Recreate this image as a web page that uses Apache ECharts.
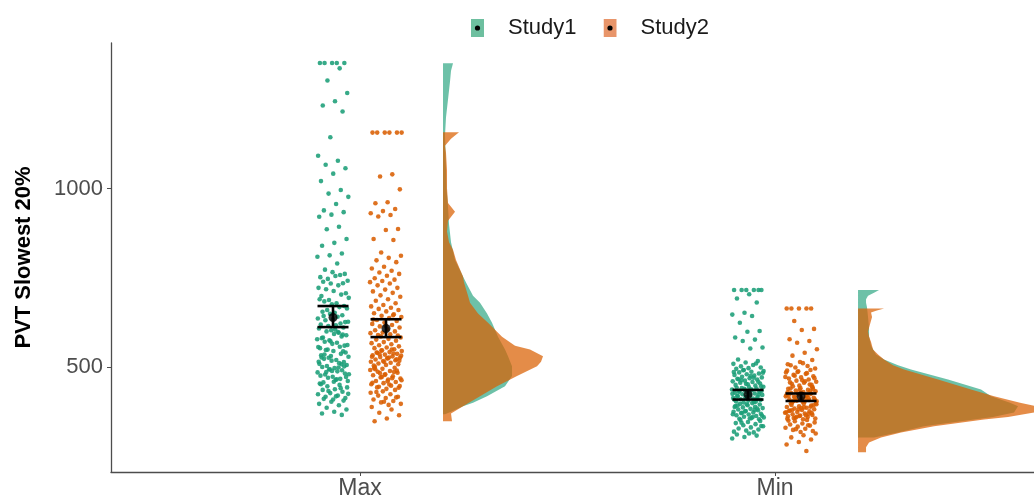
<!DOCTYPE html>
<html>
<head>
<meta charset="utf-8">
<script src="https://cdn.jsdelivr.net/npm/echarts@6/dist/echarts.min.js"></script>
<style>
  html, body { margin: 0; padding: 0; background: #fff; }
  #main { width: 1034px; height: 500px; }
</style>
</head>
<body>
<div id="main"></div>
<script>
var categories = ['Max', 'Min'];
var studies = ['Study1', 'Study2'];

var maxStudy1 = [1352,1352,1352,1352,1352,1337,1303,1268,1245,1233,1216,1144,1092,1078,1067,1057,1042,1021,996,986,977,957,939,934,927,921,893,886,859,848,840,818,813,809,790,
  773,761,766,752,758,747,742,755,739,735,734,722,729,718,707,713,699,703,688,694,679,684,671,676,690,
  668,660,664,652,655,645,649,636,641,631,626,634,619,622,615,627,617,643,
  611,603,608,596,600,589,593,581,586,575,578,568,571,560,565,553,557,549,562,605,583,591,572,556,598,
  548,541,545,533,537,526,529,520,523,514,518,509,511,503,506,497,500,491,494,485,488,479,482,473,476,467,470,461,464,457,
  544,531,515,499,486,472,459,527,508,493,480,466,535,502,489,
  454,450,446,443,438,436,431,427,424,420,417,413,409,452,441,433,425,418,411,406,
  403,397,393,386,381,375,370,366];

var maxStudy2 = [1157,1157,1157,1157,1157,1157,1040,1034,998,962,959,943,937,931,926,922,887,884,859,856,821,812,806,799,794,
  781,776,770,765,761,756,749,745,741,738,734,729,722,717,712,708,701,697,690,686,679,674,670,666,663,
  660,656,651,648,644,640,637,632,629,625,621,618,614,611,606,603,600,597,595,592,590,588,616,633,645,
  586,583,579,577,574,570,567,564,561,558,555,553,550,547,545,542,540,537,535,533,530,528,526,524,521,519,517,515,512,510,
  508,506,504,538,546,532,527,541,522,514,529,549,536,518,525,
  501,498,495,492,489,487,484,480,477,474,471,468,465,461,458,455,452,448,445,442,439,497,486,472,463,451,443,490,478,456,469,483,447,460,494,
  436,432,428,424,420,417,413,409,405,401,397,394,430,415,403,
  388,381,372,365,356,348];

var minStudy1 = [716,716,716,716,716,716,704,692,681,652,647,643,624,601,599,583,577,573,555,552,
  521,517,513,509,506,502,499,497,495,510,
  492,489,487,485,482,480,478,476,473,471,469,467,465,462,460,458,456,454,452,450,448,491,484,475,466,459,453,486,470,463,
  446,444,442,440,439,437,435,433,431,429,428,426,424,422,421,419,417,415,413,412,410,408,406,404,403,401,445,438,430,423,416,409,402,441,434,427,418,411,436,425,
  399,397,395,393,391,389,387,385,383,381,379,377,375,373,371,369,367,365,363,361,359,357,355,354,396,388,380,372,364,356,392,384,376,368,360,
  352,349,346,343,340,337,334,331,328,325,322,319,317,344,335,
  314,311,308,304,300];

var minStudy2 = [664,664,664,664,664,629,607,604,578,573,568,550,540,532,
  520,514,508,503,499,496,511,505,
  492,488,485,481,478,474,471,468,465,462,459,456,453,450,448,490,483,476,469,463,457,451,486,472,460,
  446,443,441,439,436,434,432,430,427,425,423,421,419,417,414,412,410,408,406,404,402,401,444,437,429,422,415,409,403,440,433,426,418,411,405,438,428,420,413,407,
  399,397,394,392,390,388,386,384,382,380,378,376,374,372,370,368,366,364,362,360,358,356,354,398,389,381,373,365,357,393,385,377,369,361,396,387,379,371,363,355,
  352,348,345,342,339,336,333,330,327,324,321,318,350,337,326,
  314,309,303,297,290,283,265];

// mean and interval per category (Max, Min)
var study1Mean = [639, 423];
var study1Low = [612, 409];
var study1High = [671, 436];
var study2Mean = [608, 419];
var study2Low = [584, 405];
var study2High = [634, 426];

// density profiles: [value, density]
var densMaxStudy1 = [[1351,0.10],[1330,0.08],[1300,0.07],[1250,0.05],[1200,0.03],[1150,0.02],[1100,0.025],[1050,0.03],[1000,0.035],[950,0.05],[900,0.06],[850,0.08],[800,0.12],[754,0.20],[737,0.23],[700,0.30],[680,0.37],[650,0.44],[624,0.49],[585,0.55],[549,0.62],[530,0.65],[502,0.69],[475,0.69],[446,0.62],[418,0.44],[400,0.30],[390,0.20],[375,0.08],[368,0.02]];
var densMaxStudy2 = [[1158,0.16],[1140,0.08],[1120,0.02],[1100,0.03],[1050,0.04],[1000,0.04],[960,0.05],[935,0.12],[910,0.05],[880,0.04],[850,0.06],[829,0.10],[800,0.13],[754,0.20],[737,0.21],[700,0.25],[680,0.27],[650,0.35],[624,0.45],[585,0.59],[560,0.72],[549,0.87],[530,1.00],[515,0.98],[502,0.94],[475,0.74],[446,0.54],[418,0.37],[390,0.20],[370,0.08],[348,0.09]];
var densMinStudy1 = [[716,0.21],[708,0.16],[700,0.10],[690,0.08],[680,0.08],[667,0.09],[640,0.10],[610,0.11],[586,0.11],[560,0.13],[535,0.18],[521,0.26],[505,0.40],[493,0.53],[465,0.90],[437,1.23],[418,1.33],[400,1.52],[390,1.60],[373,1.56],[360,1.35],[353,1.16],[334,0.66],[317,0.40],[303,0.16]];
var densMinStudy2 = [[664,0.26],[658,0.18],[653,0.13],[640,0.14],[620,0.12],[600,0.10],[586,0.11],[570,0.13],[549,0.15],[535,0.20],[521,0.26],[505,0.35],[493,0.46],[465,0.80],[437,1.13],[418,1.36],[400,1.62],[390,1.78],[382,1.85],[373,1.76],[360,1.50],[353,1.26],[334,0.76],[317,0.43],[303,0.23],[289,0.11],[275,0.08],[261,0.08]];

var yTicks = [500, 1000];

var pointColors = ['#1b9e77', '#d95f02'];
var fillColors = ['rgba(27,158,119,0.64)', 'rgba(217,95,2,0.72)'];
var font = 'Liberation Sans, Arial, sans-serif';

var pxPerUnit = 415;
var studyOffset = [-27 / pxPerUnit, 26 / pxPerUnit];
var jitterHalf = 16 / pxPerUnit;
var densityOffset = 83 / pxPerUnit;
var densityScale = 100 / pxPerUnit;
var capHalf = 15.5 / pxPerUnit;

function jitterPoints(values, catIndex, studyIndex) {
  var cx = catIndex + 1 + studyOffset[studyIndex];
  return values.map(function (v, i) {
    var f = ((i + 1) * 0.6180339887 + studyIndex * 0.37 + catIndex * 0.21) % 1;
    return [cx + (f - 0.5) * 2 * jitterHalf, v];
  });
}

function densitySeries(name, profile, catIndex, studyIndex) {
  var base = catIndex + 1 + densityOffset;
  return {
    type: 'custom',
    name: name,
    silent: true,
    z: 1 + studyIndex,
    data: [[base, profile[0][0]]],
    renderItem: function (params, api) {
      var pts = [api.coord([base, profile[0][0]])];
      profile.forEach(function (p) {
        pts.push(api.coord([base + p[1] * densityScale, p[0]]));
      });
      pts.push(api.coord([base, profile[profile.length - 1][0]]));
      return {
        type: 'polygon',
        shape: { points: pts },
        style: { fill: fillColors[studyIndex], stroke: null }
      };
    }
  };
}

function errorSeries(name, means, lows, highs, studyIndex) {
  return {
    type: 'custom',
    name: name,
    silent: true,
    z: 5,
    data: categories.map(function (c, i) {
      return [i + 1 + studyOffset[studyIndex], means[i], lows[i], highs[i]];
    }),
    renderItem: function (params, api) {
      var x = api.value(0);
      var lo = api.coord([x, api.value(2)]);
      var hi = api.coord([x, api.value(3)]);
      var l1 = api.coord([x - capHalf, api.value(2)]);
      var r1 = api.coord([x + capHalf, api.value(2)]);
      var l2 = api.coord([x - capHalf, api.value(3)]);
      var r2 = api.coord([x + capHalf, api.value(3)]);
      var st = { stroke: '#000', lineWidth: 2.6 };
      return {
        type: 'group',
        children: [
          { type: 'line', shape: { x1: lo[0], y1: lo[1], x2: hi[0], y2: hi[1] }, style: st },
          { type: 'line', shape: { x1: l1[0], y1: l1[1], x2: r1[0], y2: r1[1] }, style: st },
          { type: 'line', shape: { x1: l2[0], y1: l2[1], x2: r2[0], y2: r2[1] }, style: st }
        ]
      };
    }
  };
}

function legendIcon(color) {
  var svg = '<svg xmlns="http://www.w3.org/2000/svg" width="32" height="18">' +
    '<rect x="0" y="0" width="13" height="18" fill="' + color + '"/>' +
    '<circle cx="6.5" cy="9" r="2.6" fill="#000"/></svg>';
  return 'image://data:image/svg+xml;charset=utf-8,' + encodeURIComponent(svg);
}

var pointData = [
  [maxStudy1, minStudy1],
  [maxStudy2, minStudy2]
];
var densData = [
  [densMaxStudy1, densMinStudy1],
  [densMaxStudy2, densMinStudy2]
];

var series = [];
studies.forEach(function (s, si) {
  densData[si].forEach(function (prof, ci) {
    series.push(densitySeries(s, prof, ci, si));
  });
});
studies.forEach(function (s, si) {
  var pts = [];
  pointData[si].forEach(function (vals, ci) {
    pts = pts.concat(jitterPoints(vals, ci, si));
  });
  series.push({
    type: 'scatter',
    name: s,
    z: 3,
    silent: true,
    symbolSize: 4.6,
    itemStyle: { color: pointColors[si], opacity: 0.88 },
    data: pts
  });
});
series.push(errorSeries('Study1', study1Mean, study1Low, study1High, 0));
series.push(errorSeries('Study2', study2Mean, study2Low, study2High, 1));
series.push({
  type: 'scatter',
  name: 'Study1',
  z: 6,
  silent: true,
  symbolSize: 9,
  itemStyle: { color: '#000' },
  data: categories.map(function (c, i) { return [i + 1 + studyOffset[0], study1Mean[i]]; })
});
series.push({
  type: 'scatter',
  name: 'Study2',
  z: 6,
  silent: true,
  symbolSize: 9,
  itemStyle: { color: '#000' },
  data: categories.map(function (c, i) { return [i + 1 + studyOffset[1], study2Mean[i]]; })
});

var myChart = echarts.init(document.getElementById('main'));
var option = {
  animation: false,
  backgroundColor: '#fff',
  textStyle: { fontFamily: font },
  legend: {
    left: 466,
    top: 12,
    itemWidth: 32,
    itemHeight: 18,
    itemGap: 27,
    selectedMode: false,
    textStyle: { fontSize: 22, color: '#1a1a1a', fontFamily: font },
    data: [
      { name: 'Study1', icon: legendIcon('#6dbf9f') },
      { name: 'Study2', icon: legendIcon('#e8956a') }
    ]
  },
  grid: { left: 111, right: 0, top: 43, bottom: 27.5, containLabel: false },
  xAxis: {
    type: 'value',
    min: 0.4,
    max: 2.624,
    splitLine: { show: false },
    axisLine: { show: true, onZero: false, lineStyle: { color: '#4d4d4d', width: 1.3 } },
    axisTick: { show: true, length: 4, customValues: [1, 2], lineStyle: { color: '#4d4d4d' } },
    axisLabel: {
      customValues: [1, 2],
      margin: 5,
      fontSize: 23,
      color: '#4d4d4d',
      fontFamily: font,
      formatter: function (v) { return categories[Math.round(v) - 1]; }
    }
  },
  yAxis: {
    type: 'value',
    min: 206,
    max: 1408,
    name: 'PVT Slowest 20%',
    nameLocation: 'middle',
    nameGap: 76,
    nameTextStyle: { fontSize: 22, fontWeight: 'bold', color: '#000', fontFamily: font },
    splitLine: { show: false },
    axisLine: { show: true, lineStyle: { color: '#4d4d4d', width: 1.3 } },
    axisTick: { show: true, length: 4, customValues: yTicks, lineStyle: { color: '#4d4d4d' } },
    axisLabel: {
      customValues: yTicks,
      margin: 8,
      fontSize: 22,
      color: '#4d4d4d',
      fontFamily: font,
      formatter: function (v) { return String(v); }
    }
  },
  series: series
};
myChart.setOption(option);
</script>
</body>
</html>
